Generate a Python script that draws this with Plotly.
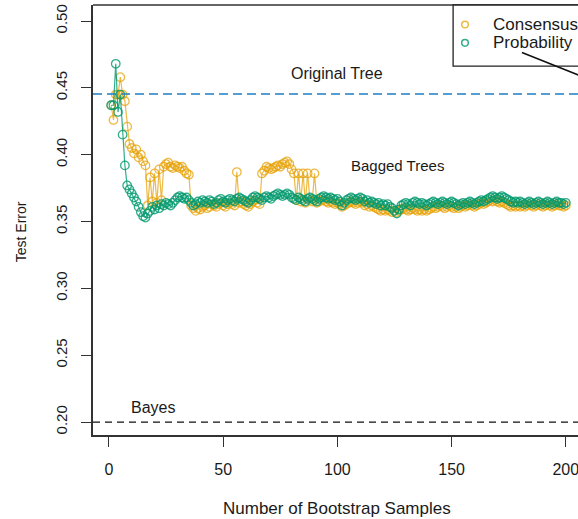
import plotly.graph_objects as go

# Number of bootstrap samples (trees in the bagged ensemble)
n_trees = list(range(1, 201))

# Test error of the bagged classifier, majority vote of the trees
consensus = [
    0.437, 0.426, 0.445, 0.445, 0.458, 0.445, 0.440, 0.421, 0.408, 0.405,
    0.401, 0.404, 0.398, 0.400, 0.395, 0.392, 0.362, 0.383, 0.365, 0.386,
    0.364, 0.389, 0.366, 0.391, 0.393, 0.394, 0.391, 0.390, 0.392, 0.391,
    0.390, 0.391, 0.388, 0.386, 0.385, 0.362, 0.360, 0.358, 0.360, 0.359,
    0.361, 0.362, 0.360, 0.361, 0.363, 0.362, 0.361, 0.363, 0.364, 0.362,
    0.361, 0.363, 0.364, 0.363, 0.362, 0.387, 0.364, 0.365, 0.363, 0.362,
    0.361, 0.363, 0.365, 0.366, 0.364, 0.363, 0.386, 0.388, 0.391, 0.390,
    0.389, 0.390, 0.391, 0.392, 0.391, 0.393, 0.394, 0.395, 0.393, 0.389,
    0.386, 0.366, 0.386, 0.365, 0.386, 0.364, 0.386, 0.366, 0.365, 0.386,
    0.364, 0.365, 0.366, 0.366, 0.365, 0.364, 0.365, 0.364, 0.363, 0.364,
    0.363, 0.361, 0.362, 0.363, 0.364, 0.365, 0.364, 0.363, 0.364, 0.365,
    0.364, 0.362, 0.363, 0.361, 0.362, 0.361, 0.360, 0.359, 0.358, 0.359,
    0.358, 0.359, 0.358, 0.357, 0.358, 0.357, 0.358, 0.359, 0.360, 0.359,
    0.358, 0.359, 0.360, 0.359, 0.358, 0.359, 0.358, 0.359, 0.358, 0.359,
    0.360, 0.361, 0.360, 0.361, 0.362, 0.361, 0.360, 0.361, 0.362, 0.361,
    0.360, 0.361, 0.360, 0.361, 0.362, 0.361, 0.362, 0.363, 0.362, 0.361,
    0.362, 0.363, 0.364, 0.363, 0.364, 0.365, 0.366, 0.365, 0.366, 0.365,
    0.364, 0.365, 0.364, 0.363, 0.362, 0.361, 0.362, 0.361, 0.362, 0.361,
    0.362, 0.361, 0.362, 0.363, 0.362, 0.361, 0.362, 0.363, 0.362, 0.361,
    0.362, 0.363, 0.362, 0.361, 0.362, 0.363, 0.362, 0.362, 0.361, 0.362,
]

# Test error when averaging the trees' class probabilities
probability = [
    0.437, 0.437, 0.468, 0.432, 0.445, 0.415, 0.392, 0.377, 0.374, 0.371,
    0.368, 0.365, 0.361, 0.357, 0.354, 0.353, 0.356, 0.358, 0.361, 0.359,
    0.362, 0.360, 0.363, 0.362, 0.364, 0.363, 0.362, 0.364, 0.366, 0.368,
    0.369, 0.368, 0.367, 0.368, 0.366, 0.364, 0.362, 0.363, 0.365, 0.364,
    0.366, 0.365, 0.364, 0.366, 0.365, 0.363, 0.364, 0.366, 0.367, 0.365,
    0.364, 0.366, 0.367, 0.366, 0.365, 0.367, 0.368, 0.367, 0.366, 0.365,
    0.364, 0.366, 0.368, 0.369, 0.368, 0.367, 0.366, 0.368, 0.369, 0.368,
    0.367, 0.369, 0.370, 0.371, 0.370, 0.369, 0.370, 0.371, 0.370, 0.368,
    0.367, 0.366, 0.368, 0.367, 0.366, 0.365, 0.367, 0.368, 0.367, 0.366,
    0.365, 0.367, 0.368, 0.369, 0.368, 0.367, 0.368, 0.367, 0.366, 0.367,
    0.365, 0.362, 0.364, 0.366, 0.367, 0.368, 0.367, 0.366, 0.367, 0.368,
    0.367, 0.365, 0.366, 0.364, 0.365, 0.364, 0.363, 0.364, 0.362, 0.363,
    0.362, 0.363, 0.361, 0.360, 0.358, 0.356, 0.359, 0.362, 0.363, 0.364,
    0.363, 0.362, 0.364, 0.365, 0.364, 0.363, 0.364, 0.363, 0.362, 0.363,
    0.364, 0.365, 0.364, 0.363, 0.364, 0.365, 0.364, 0.363, 0.364, 0.365,
    0.364, 0.363, 0.362, 0.363, 0.364, 0.363, 0.364, 0.365, 0.364, 0.363,
    0.364, 0.365, 0.366, 0.365, 0.366, 0.367, 0.368, 0.369, 0.368, 0.367,
    0.368, 0.369, 0.368, 0.367, 0.366, 0.365, 0.364, 0.365, 0.364, 0.365,
    0.364, 0.363, 0.364, 0.365, 0.364, 0.363, 0.364, 0.365, 0.364, 0.363,
    0.364, 0.365, 0.364, 0.363, 0.364, 0.365, 0.364, 0.364, 0.363, 0.364,
]

# Reference error rates
original_tree_error = 0.4454
bayes_error = 0.20

x_ticks = [0, 50, 100, 150, 200]
y_ticks = [0.20, 0.25, 0.30, 0.35, 0.40, 0.45, 0.50]
legend_labels = ["Consensus", "Probability"]

ORANGE = "rgba(230,159,0,0.72)"
GREEN = "rgba(0,152,110,0.80)"
FONT = "Liberation Sans, Arial, sans-serif"
TEXT = "#1a1a1a"
AXIS = "#333333"

fig = go.Figure()

for values, color, name in [(consensus, ORANGE, legend_labels[0]),
                            (probability, GREEN, legend_labels[1])]:
    fig.add_trace(go.Scatter(
        x=n_trees, y=values, name=name, mode="lines+markers",
        line=dict(color=color, width=1.2),
        marker=dict(symbol="circle-open", size=8.5, color=color,
                    line=dict(width=1.3, color=color)),
        showlegend=False, hoverinfo="x+y+name",
    ))

# Horizontal reference lines
fig.add_shape(type="line", xref="paper", x0=0, x1=1, yref="y",
              y0=original_tree_error, y1=original_tree_error,
              line=dict(color="#1f7fc4", width=1.4, dash="9px,5px"))
fig.add_shape(type="line", xref="paper", x0=0, x1=1, yref="y",
              y0=bayes_error, y1=bayes_error,
              line=dict(color="#111111", width=1.3, dash="7px,5px"))

# Top edge of the frame
fig.add_shape(type="line", xref="paper", x0=0, x1=1, yref="paper",
              y0=1, y1=1, line=dict(color=AXIS, width=1.6))

# Legend box with its keys
fig.add_shape(type="rect", xref="paper", yref="paper",
              x0=0.7425, x1=1.2, y0=0.858, y1=1.0,
              line=dict(color="#222222", width=1.3), fillcolor="white")
for yp, color, label in [(0.9546, ORANGE, legend_labels[0]),
                         (0.9120, GREEN, legend_labels[1])]:
    fig.add_shape(type="circle", xref="paper", yref="paper",
                  xsizemode="pixel", ysizemode="pixel",
                  xanchor=0.767, yanchor=yp, x0=-3.3, x1=3.3, y0=-3.3, y1=3.3,
                  line=dict(color=color, width=1.5))
    fig.add_annotation(xref="paper", yref="paper", x=0.821, y=yp,
                       xanchor="left", yanchor="middle", text=label,
                       showarrow=False, font=dict(size=17, color=TEXT, family=FONT))

# Pointer line leaving the legend
fig.add_shape(type="line", xref="x", yref="y", x0=180.8, y0=0.4765,
              x1=206.5, y1=0.4590, line=dict(color="#111111", width=1.6))

# Text labels inside the panel
for txt, xv, yv, fs in [("Original Tree", 99.8, 0.4610, 16),
                        ("Bagged Trees", 126.3, 0.3923, 15),
                        ("Bayes", 19.3, 0.2112, 16)]:
    fig.add_annotation(x=xv, y=yv, text=txt, showarrow=False,
                       xanchor="center", yanchor="middle",
                       font=dict(size=fs, color=TEXT, family=FONT))

# Axis titles
fig.add_annotation(xref="x", yref="paper", x=100, y=0, yshift=-73,
                   text="Number of Bootstrap Samples", showarrow=False,
                   xanchor="center", yanchor="middle",
                   font=dict(size=17, color=TEXT, family=FONT))
fig.add_annotation(xref="paper", yref="y", x=0, xshift=-72, y=0.342,
                   text="Test Error", textangle=-90, showarrow=False,
                   xanchor="center", yanchor="middle",
                   font=dict(size=14, color=TEXT, family=FONT))

fig.update_xaxes(
    range=[-6.96, 205.34], tickvals=x_ticks, ticks="outside", ticklen=10,
    tickwidth=1.4, tickcolor=AXIS, showline=True, linecolor=AXIS, linewidth=1.6,
    showgrid=False, zeroline=False, ticklabelstandoff=9,
    ticklabeloverflow="allow",
    tickfont=dict(size=16, color=TEXT, family=FONT),
)
fig.update_yaxes(
    range=[0.1903, 0.5120], tickvals=y_ticks, tickformat=".2f", ticks="outside",
    ticklen=10, tickwidth=1.4, tickcolor=AXIS, showline=True, linecolor=AXIS,
    linewidth=1.6, showgrid=False, zeroline=False, tickangle=-90,
    ticklabelstandoff=8, ticklabeloverflow="allow",
    tickfont=dict(size=15, color=TEXT, family=FONT),
)

fig.update_layout(
    width=578, height=519,
    margin=dict(l=93, r=0, t=5, b=84),
    plot_bgcolor="white", paper_bgcolor="white",
    showlegend=False,
)

fig.write_html("out.html")
